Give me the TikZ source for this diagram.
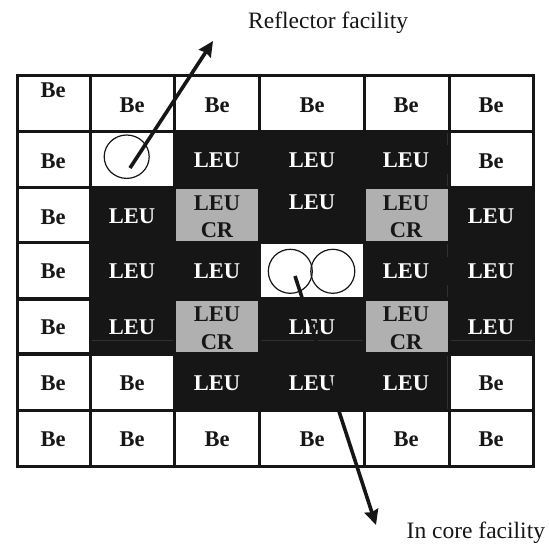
\documentclass[tikz,border=0pt]{standalone}
\usepackage{fontspec}
\setmainfont{Liberation Serif}
\usetikzlibrary{arrows.meta}
\definecolor{ink}{HTML}{161616}
\definecolor{crgrey}{HTML}{B0B0B0}
\definecolor{seam}{HTML}{303030}
\tikzset{
  x=1pt,y=-1pt,
  gridline/.style={draw=ink,line width=3.2pt},
  blk/.style={fill=ink},
  seamline/.style={draw=seam,line width=0.5pt},
  lbl/.style={font=\fontsize{22.5}{25}\selectfont\bfseries,inner sep=0pt,anchor=center,align=center},
  be/.style={lbl,text=ink},
  leu/.style={lbl,text=white},
  crtext/.style={lbl,text=ink},
  captext/.style={font=\fontsize{23.5}{26}\selectfont,text=ink,inner sep=0pt,anchor=base west},
  holeline/.style={draw=ink,line width=1.2pt},
  pointer/.style={draw=ink,line width=3.6pt,-{Stealth[length=15pt,width=14pt,inset=1.5pt]}}
}
\begin{document}
\begin{tikzpicture}
\useasboundingbox (0,0) rectangle (549,544);
\fill[white] (0,0) rectangle (549,544);
% grid lines
\foreach \x in {17.5,90.7,174.7,259.7,364.7,449.3,533.5}
  \draw[gridline] (\x,74) -- (\x,468);
\foreach \y in {75.5,131.5,187.5,242.5,299,354,410.5,466.5}
  \draw[gridline] (16,\y) -- (535,\y);
% black fuel region
\fill[blk] (173,130) rectangle (450,244);
\fill[blk] (90,186) rectangle (175,356);
\fill[blk] (175,244) rectangle (535,356);
\fill[blk] (450,186) rectangle (535,356);
\fill[blk] (173,356) rectangle (450,412);
% faint seams in the black region
\draw[seamline] (92,340.3) -- (173,340.3);
\draw[seamline] (261,340.3) -- (363,340.3);
\draw[seamline] (451,340.3) -- (532,340.3);
\draw[seamline] (447.5,133) -- (447.5,145);
\draw[seamline] (447.5,174) -- (447.5,186);
\draw[seamline] (447.5,244) -- (447.5,257);
\draw[seamline] (447.5,285) -- (447.5,297);
\draw[seamline] (447.5,356) -- (447.5,409);
% opening in the centre
\fill[white] (261,244) rectangle (363,297);
% grey cells
\fill[crgrey] (176,189) rectangle (258.3,241);
\fill[crgrey] (366,189) rectangle (448,241);
\fill[crgrey] (176,301) rectangle (258.3,352);
\fill[crgrey] (366,301) rectangle (448,352);
% labels, row 1
\node[be] (a1) at (53,90) {Be};
\node[be] (a2) at (132,105) {Be};
\node[be] (a3) at (217,105) {Be};
\node[be] (a4) at (312,105) {Be};
\node[be] (a5) at (406,105) {Be};
\node[be] (a6) at (491,105) {Be};
% row 2
\node[be] (b1) at (53,161) {Be};
\draw[holeline] (126.7,156.7) ellipse [x radius=22.5,y radius=21.7];
\coordinate (reflstart) at (130,168);
\node[leu] (b3) at (217,160) {LEU};
\node[leu] (b4) at (312,160) {LEU};
\node[leu] (b5) at (406,160) {LEU};
\node[be] (b6) at (491,161) {Be};
% row 3
\node[be] (c1) at (53,217) {Be};
\node[leu] (c2) at (132,216) {LEU};
\node[crtext] (c3) at (217,203) {LEU};
\node[crtext] (c3b) at (217,230) {CR};
\node[leu] (c4) at (312,202) {LEU};
\node[crtext] (c5) at (406,203) {LEU};
\node[crtext] (c5b) at (406,230) {CR};
\node[leu] (c6) at (491,216) {LEU};
% row 4
\node[be] (d1) at (53,271) {Be};
\node[leu] (d2) at (132,271) {LEU};
\node[leu] (d3) at (217,271) {LEU};
\draw[holeline] (290.3,271.3) ellipse [x radius=22,y radius=22];
\draw[holeline] (332.8,271.3) ellipse [x radius=22,y radius=22];
\coordinate (corestart) at (295,276);
\node[leu] (d5) at (406,271) {LEU};
\node[leu] (d6) at (491,271) {LEU};
% row 5
\node[be] (e1) at (53,327) {Be};
\node[leu] (e2) at (132,327) {LEU};
\node[crtext] (e3) at (217,314) {LEU};
\node[crtext] (e3b) at (217,342) {CR};
\node[leu] (e4) at (312,327) {LEU};
\node[crtext] (e5) at (406,314) {LEU};
\node[crtext] (e5b) at (406,342) {CR};
\node[leu] (e6) at (491,327) {LEU};
% row 6
\node[be] (f1) at (53,383) {Be};
\node[be] (f2) at (132,383) {Be};
\node[leu] (f3) at (217,383) {LEU};
\node[leu] (f4) at (312,383) {LEU};
\node[leu] (f5) at (406,383) {LEU};
\node[be] (f6) at (491,383) {Be};
% row 7
\node[be] (g1) at (53,439) {Be};
\node[be] (g2) at (132,439) {Be};
\node[be] (g3) at (217,439) {Be};
\node[be] (g4) at (312,439) {Be};
\node[be] (g5) at (406,439) {Be};
\node[be] (g6) at (491,439) {Be};
% captions
\node[captext] (refl) at (248,28.5) {Reflector facility};
\node[captext] (core) at (406.5,538.5) {In core facility};
\coordinate (refltip) at (213,41);
\coordinate (coretip) at (376,525);
% arrows
\draw[pointer] (reflstart) -- (refltip);
\draw[pointer] (corestart) -- (coretip);
\end{tikzpicture}
\end{document}
